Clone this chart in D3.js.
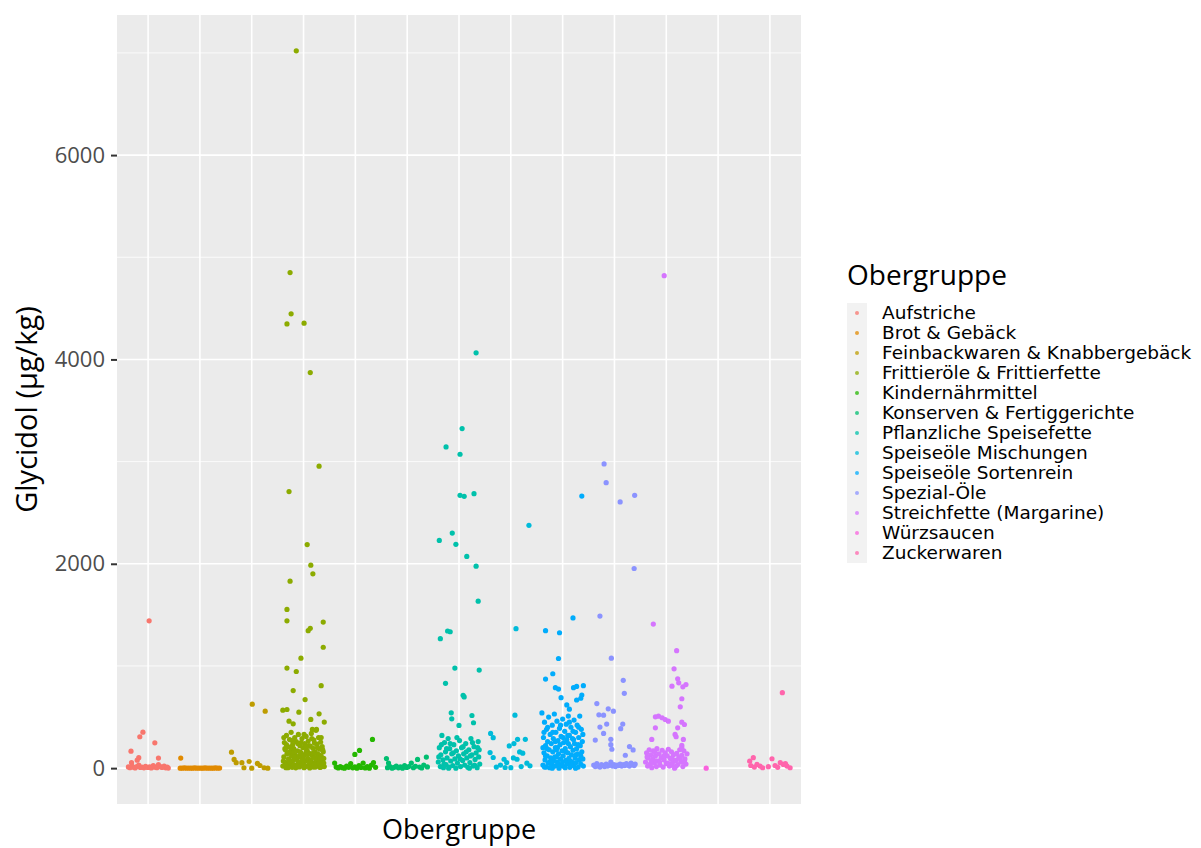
<!DOCTYPE html>
<html>
<head>
<meta charset="utf-8">
<script src="https://cdn.jsdelivr.net/npm/d3@7"></script>
<style>
  body { margin: 0; background: #fff; }
  text { font-family: "Open Sans", sans-serif; }
</style>
</head>
<body>
<div id="chart"></div>
<script>
// jitter plot, one group of points per Obergruppe
var categories = ['Aufstriche', 'Brot & Gebäck', 'Feinbackwaren & Knabbergebäck', 'Frittieröle & Frittierfette',
  'Kindernährmittel', 'Konserven & Fertiggerichte', 'Pflanzliche Speisefette', 'Speiseöle Mischungen',
  'Speiseöle Sortenrein', 'Spezial-Öle', 'Streichfette (Margarine)', 'Würzsaucen', 'Zuckerwaren'];

var colors = ['#F8766D', '#E18A00', '#BE9C00', '#8CAB00', '#24B700', '#00BE70', '#00C1AB',
  '#00BBDA', '#00ACFC', '#8B93FF', '#D575FE', '#F962DD', '#FF65AC'];

var yTicks = [0, 2000, 4000, 6000];
var yMinor = [1000, 3000, 5000, 7000];

// [jitter (in category steps), Glycidol µg/kg]
var aufstriche = [[0.02,1442],[-0.10,352],[-0.16,307],[0.13,248],[-0.33,166],[-0.18,102],[-0.21,78],[0.20,98],[-0.32,53],
  [-0.38,12],[-0.35,5],[-0.31,20],[-0.28,8],[-0.25,2],[-0.22,15],[-0.18,30],[-0.15,6],[-0.12,10],[-0.08,3],[-0.05,18],
  [-0.01,7],[0.03,12],[0.06,2],[0.10,25],[0.13,9],[0.17,4],[0.20,35],[0.24,14],[0.27,6],[0.31,20],[0.34,3],[0.37,10],[0.39,1]];

var brot = [[-0.37,98],[-0.38,0],[-0.34,0],[-0.30,2],[-0.26,0],[-0.22,1],[-0.18,0],[-0.14,0],[-0.10,2],[-0.06,0],[-0.02,1],
  [0.02,0],[0.06,0],[0.10,2],[0.14,0],[0.18,1],[0.22,0],[0.26,0],[0.30,2],[0.34,0],[0.38,1]];

var feinback = [[0.01,626],[0.26,557],[-0.39,156],[-0.34,85],[-0.30,53],[-0.19,53],[-0.05,65],[-0.15,4],[0.00,0],
  [0.11,46],[0.16,26],[0.24,4],[0.31,0]];

var frittier = [[-0.14,7020],[-0.26,4850],[-0.24,4446],[-0.32,4348],[0.01,4355],[0.13,3871],[0.30,2955],[-0.28,2707],
  [0.07,2188],[0.14,1986],[0.18,1902],[-0.26,1830],[-0.32,1553],[-0.32,1442],[0.13,1368],[0.09,1345],[0.38,1430],
  [0.38,1183],[-0.05,1076],[-0.32,979],[-0.14,946],[0.34,807],[-0.20,759],[0.03,671],[-0.40,567],[-0.32,574],
  [-0.09,548],[0.30,532],[0.14,477],[0.40,451],[-0.28,460],[-0.20,434],[0.25,379],[0.17,379],
  [-0.40,20],[-0.38,110],[-0.37,250],[-0.36,60],[-0.35,180],[-0.34,5],[-0.33,320],[-0.32,140],[-0.31,40],[-0.30,210],
  [-0.29,90],[-0.28,15],[-0.27,280],[-0.26,160],[-0.25,55],[-0.24,350],[-0.23,120],[-0.22,8],[-0.21,230],[-0.20,75],
  [-0.19,190],[-0.18,30],[-0.17,300],[-0.16,130],[-0.15,3],[-0.14,260],[-0.13,85],[-0.12,170],[-0.11,45],[-0.10,330],
  [-0.09,115],[-0.08,12],[-0.07,220],[-0.06,65],[-0.05,150],[-0.04,25],[-0.03,290],[-0.02,100],[-0.01,200],[0.00,50],
  [0.01,5],[0.02,240],[0.03,135],[0.04,70],[0.05,310],[0.06,18],[0.07,175],[0.08,95],[0.09,265],[0.10,35],[0.11,145],
  [0.12,2],[0.13,215],[0.14,80],[0.15,340],[0.16,125],[0.17,42],[0.18,195],[0.19,10],[0.20,275],[0.21,105],[0.22,160],
  [0.23,60],[0.24,370],[0.25,22],[0.26,235],[0.27,140],[0.28,88],[0.29,300],[0.30,48],[0.31,185],[0.32,6],[0.33,255],
  [0.34,118],[0.35,70],[0.36,210],[0.37,28],[0.38,160],[0.39,95],[0.40,15],
  [-0.39,70],[-0.30,5],[-0.20,150],[-0.10,20],[0.00,120],[0.10,220],[0.20,40],[0.30,130],[0.35,15],[-0.25,200],
  [-0.15,95],[0.05,160],[0.15,60],[0.25,100],[-0.05,250],[-0.35,35],
  [-0.38,300],[-0.33,230],[-0.29,150],[-0.27,60],[-0.22,270],[-0.18,110],[-0.13,20],[-0.11,240],[-0.07,160],
  [-0.03,40],[0.01,330],[0.04,210],[0.08,140],[0.12,60],[0.16,290],[0.19,150],[0.23,10],[0.27,200],[0.31,90],
  [0.34,300],[0.37,180],[0.39,50],[-0.36,190],[-0.01,80],[0.21,245]];

var kinder = [[0.33,281],[0.08,173],[-0.01,134],[-0.40,50],[-0.37,10],[-0.33,2],[-0.29,15],[-0.25,5],[-0.21,0],[-0.17,20],
  [-0.13,8],[-0.09,45],[-0.05,3],[-0.01,12],[0.03,0],[0.07,25],[0.11,6],[0.15,50],[0.19,2],[0.23,14],[0.27,0],[0.31,30],
  [0.35,55],[0.39,8]];

var konserven = [[-0.40,94],[-0.36,50],[-0.38,5],[-0.33,15],[-0.29,0],[-0.25,8],[-0.21,20],[-0.17,3],[-0.13,12],[-0.09,0],
  [-0.05,25],[-0.01,6],[0.03,15],[0.08,50],[0.12,4],[0.16,18],[0.20,85],[0.24,10],[0.28,2],[0.32,30],[0.37,108],[0.39,12]];

var pflanzlich = [[0.33,4065],[0.06,3323],[-0.25,3144],[0.02,3072],[0.02,2670],[0.10,2660],[0.29,2686],[-0.13,2301],
  [-0.38,2229],[-0.06,2190],[0.15,2072],[0.33,1977],[0.37,1634],[-0.22,1342],[-0.17,1335],[-0.36,1267],[-0.08,979],
  [0.39,960],[-0.26,830],[0.08,713],[0.10,697],[-0.15,541],[-0.14,483],[0.25,515],[0.28,444],[0.00,418],
  [-0.40,60],[-0.38,200],[-0.36,15],[-0.35,130],[-0.33,320],[-0.31,80],[-0.30,5],[-0.28,250],[-0.26,160],[-0.25,35],
  [-0.23,100],[-0.21,290],[-0.19,10],[-0.18,190],[-0.16,70],[-0.14,140],[-0.12,25],[-0.10,230],[-0.08,90],[-0.06,0],
  [-0.05,170],[-0.03,50],[-0.01,120],[0.01,270],[0.03,15],[0.05,200],[0.07,75],[0.09,140],[0.11,30],[0.13,240],
  [0.15,100],[0.17,8],[0.19,180],[0.21,55],[0.23,290],[0.25,130],[0.27,20],[0.29,210],[0.31,85],[0.33,150],[0.35,5],
  [0.37,260],[0.38,110],[0.40,40],[0.39,180],[0.20,0],[-0.20,0],
  [-0.34,230],[-0.29,40],[-0.24,190],[-0.17,240],[-0.11,150],[-0.04,300],[0.02,90],[0.08,210],[0.14,160],[0.22,120],
  [0.30,30],[0.36,200],[-0.39,110],[0.26,250]];

var mischungen = [[0.35,2376],[0.10,1365],[0.08,518],[-0.39,340],[-0.34,298],[-0.03,217],[0.06,240],[0.13,282],[0.28,282],
  [-0.40,152],[-0.34,104],[-0.13,87],[-0.08,55],[0.17,159],[0.23,146],[0.12,87],[0.31,49],[0.37,23],[-0.11,6],
  [-0.28,10],[-0.20,30],[0.00,5],[0.20,15],[0.05,100]];

var sortenrein = [[0.37,2663],[0.20,1470],[-0.33,1345],[-0.06,1325],[-0.08,1073],[-0.33,872],[-0.19,924],[-0.14,787],
  [-0.08,774],[0.21,787],[0.27,800],[0.40,807],[-0.03,690],[0.08,619],[0.13,577],[0.27,667],[0.37,716],[0.35,684],
  [-0.40,540],[-0.38,30],[-0.37,300],[-0.36,150],[-0.35,450],[-0.34,80],[-0.33,220],[-0.32,10],[-0.31,380],[-0.30,120],
  [-0.29,260],[-0.28,50],[-0.27,500],[-0.26,180],[-0.25,5],[-0.24,330],[-0.23,100],[-0.22,240],[-0.21,40],[-0.20,420],
  [-0.19,160],[-0.18,290],[-0.17,70],[-0.16,530],[-0.15,20],[-0.14,200],[-0.13,350],[-0.12,110],[-0.11,460],[-0.10,60],
  [-0.09,270],[-0.08,140],[-0.07,0],[-0.06,390],[-0.05,230],[-0.04,90],[-0.03,310],[-0.02,35],[-0.01,170],[0.00,480],
  [0.01,120],[0.02,250],[0.03,15],[0.04,360],[0.05,190],[0.06,75],[0.07,430],[0.08,280],[0.09,45],[0.10,150],[0.11,510],
  [0.12,95],[0.13,320],[0.14,8],[0.15,210],[0.16,400],[0.17,130],[0.18,60],[0.19,290],[0.20,175],[0.21,25],[0.22,470],
  [0.23,240],[0.24,100],[0.25,350],[0.26,55],[0.27,190],[0.28,420],[0.29,140],[0.30,10],[0.31,300],[0.32,80],[0.33,510],
  [0.34,220],[0.35,40],[0.36,380],[0.37,160],[0.38,260],[0.39,90],[0.40,20],
  [-0.35,10],[-0.25,60],[-0.15,110],[-0.05,20],[0.05,5],[0.15,70],[0.25,0],[0.35,120],[-0.30,190],[0.00,60],[0.10,320],
  [-0.20,0],[0.30,230],[-0.10,200],[0.20,360],
  [-0.38,200],[-0.33,120],[-0.29,400],[-0.24,60],[-0.19,350],[-0.14,260],[-0.09,40],[-0.04,420],[0.01,300],[0.06,160],
  [0.11,240],[0.16,30],[0.21,280],[0.26,130],[0.31,400],[0.36,90],[0.39,330],[-0.36,350],[-0.12,180],[0.13,450]];

var spezial = [[-0.20,2977],[-0.16,2794],[0.11,2605],[0.39,2670],[0.38,1954],[-0.28,1488],[-0.06,1076],[0.17,859],[0.19,732],
  [-0.34,632],[-0.12,580],[-0.02,557],[-0.30,522],[-0.21,518],[0.16,431],[-0.15,431],[-0.28,402],[0.12,386],[-0.21,340],
  [-0.07,282],[-0.07,230],[-0.05,185],[-0.37,275],[0.29,211],[0.36,178],[0.21,126],
  [-0.40,30],[-0.37,15],[-0.34,45],[-0.31,20],[-0.28,10],[-0.25,35],[-0.22,25],[-0.19,15],[-0.16,40],[-0.13,20],[-0.10,30],
  [-0.07,60],[-0.04,20],[-0.01,35],[0.02,15],[0.05,30],[0.08,25],[0.11,40],[0.14,20],[0.17,35],[0.20,25],[0.23,45],
  [0.26,30],[0.29,20],[0.32,50],[0.35,35],[0.38,25],[0.40,40]];

var streichfette = [[-0.04,4820],[-0.25,1410],[0.20,1150],[0.15,972],[0.22,874],[0.24,835],[0.11,802],[0.32,796],[0.38,818],
  [0.30,679],[0.27,600],[-0.21,502],[-0.15,509],[-0.08,493],[-0.02,476],[0.04,460],[-0.21,395],[0.30,450],[0.35,427],
  [0.22,395],[0.17,330],[0.19,307],[0.33,281],[0.30,222],[-0.28,281],
  [-0.40,60],[-0.38,150],[-0.36,20],[-0.35,100],[-0.33,180],[-0.31,40],[-0.30,130],[-0.28,5],[-0.26,90],[-0.25,170],
  [-0.23,50],[-0.21,120],[-0.19,15],[-0.18,190],[-0.16,70],[-0.14,140],[-0.12,30],[-0.10,100],[-0.08,175],[-0.06,10],
  [-0.04,80],[-0.02,150],[0.00,45],[0.02,120],[0.04,185],[0.06,20],[0.08,95],[0.10,160],[0.12,55],[0.14,130],[0.16,0],
  [0.18,75],[0.20,145],[0.22,35],[0.24,110],[0.26,180],[0.28,60],[0.30,125],[0.32,15],[0.34,170],[0.36,90],[0.38,40],
  [0.40,140],[-0.20,70],[0.10,30],[0.30,200],
  [-0.37,110],[-0.29,70],[-0.22,160],[-0.13,60],[-0.05,120],[0.03,50],[0.11,100],[0.19,20],[0.27,90],[0.35,60]];

var wuerz = [[-0.23,0]];

var zucker = [[0.24,739],[-0.32,102],[0.04,92],[-0.39,68],[-0.37,26],[-0.25,36],[-0.19,20],[-0.14,4],[-0.03,14],[0.10,26],
  [0.20,53],[0.26,36],[0.33,20],[0.39,4],[-0.30,10],[0.15,8],[0.30,45]];

var groups = [aufstriche, brot, feinback, frittier, kinder, konserven, pflanzlich, mischungen, sortenrein, spezial,
  streichfette, wuerz, zucker];

var points = [];
groups.forEach(function(g, i) {
  g.forEach(function(p) {
    points.push({ cat: categories[i], jitter: p[0], value: p[1] });
  });
});

var width = 1201, height = 848;
var panel = { left: 117, right: 801, top: 15, bottom: 804 };

var svg = d3.select('#chart').append('svg')
  .attr('width', width)
  .attr('height', height);

var x = d3.scalePoint()
  .domain(categories)
  .range([panel.left, panel.right])
  .padding(0.6);

var maxValue = d3.max(points, function(d) { return d.value; });
var pad = maxValue * 0.05;
var y = d3.scaleLinear()
  .domain([-pad, maxValue + pad])
  .range([panel.bottom, panel.top]);

var color = d3.scaleOrdinal().domain(categories).range(colors);

// panel background + grid
svg.append('rect')
  .attr('x', panel.left).attr('y', panel.top)
  .attr('width', panel.right - panel.left).attr('height', panel.bottom - panel.top)
  .attr('fill', '#EBEBEB');

svg.append('g').selectAll('line').data(yMinor).enter().append('line')
  .attr('x1', panel.left).attr('x2', panel.right)
  .attr('y1', function(d) { return y(d); }).attr('y2', function(d) { return y(d); })
  .attr('stroke', '#fff').attr('stroke-width', 0.8);

svg.append('g').selectAll('line').data(yTicks).enter().append('line')
  .attr('x1', panel.left).attr('x2', panel.right)
  .attr('y1', function(d) { return y(d); }).attr('y2', function(d) { return y(d); })
  .attr('stroke', '#fff').attr('stroke-width', 1.6);

svg.append('g').selectAll('line').data(categories).enter().append('line')
  .attr('x1', function(d) { return x(d); }).attr('x2', function(d) { return x(d); })
  .attr('y1', panel.top).attr('y2', panel.bottom)
  .attr('stroke', '#fff').attr('stroke-width', 1.6);

// y axis
var yAxis = svg.append('g')
  .attr('transform', 'translate(' + panel.left + ',0)')
  .call(d3.axisLeft(y).tickValues(yTicks).tickSize(6).tickPadding(6).tickFormat(d3.format('d')));
yAxis.select('.domain').remove();
yAxis.selectAll('.tick line').attr('stroke', '#333').attr('stroke-width', 2);
yAxis.selectAll('.tick text')
  .attr('fill', '#4D4D4D')
  .style('font-size', '22px')
  .style('font-family', '"Open Sans", sans-serif');

// points
svg.append('g').selectAll('circle')
  .data(points).enter().append('circle')
  .attr('cx', function(d) { return x(d.cat) + d.jitter * x.step(); })
  .attr('cy', function(d) { return y(d.value); })
  .attr('r', 2.6)
  .attr('fill', function(d) { return color(d.cat); });

// axis titles
svg.append('text')
  .attr('x', (panel.left + panel.right) / 2)
  .attr('y', 839)
  .attr('text-anchor', 'middle')
  .style('font-size', '27px')
  .text('Obergruppe');

svg.append('text')
  .attr('transform', 'translate(37,' + ((panel.top + panel.bottom) / 2) + ') rotate(-90)')
  .attr('text-anchor', 'middle')
  .style('font-size', '29px')
  .text('Glycidol (µg/kg)');

// legend
var legend = svg.append('g').attr('transform', 'translate(847,0)');

legend.append('text')
  .attr('x', 0).attr('y', 285)
  .style('font-size', '28px')
  .text('Obergruppe');

var items = legend.selectAll('.item')
  .data(categories).enter().append('g')
  .attr('class', 'item')
  .attr('transform', function(d, i) { return 'translate(0,' + (303 + i * 20) + ')'; });

items.append('rect')
  .attr('width', 20).attr('height', 20)
  .attr('fill', '#F2F2F2');

items.append('circle')
  .attr('cx', 10).attr('cy', 10).attr('r', 2)
  .attr('fill', function(d) { return color(d); })
  .attr('opacity', 0.75);

items.append('text')
  .attr('x', 35).attr('y', 10)
  .attr('dy', '0.35em')
  .style('font-size', '18.5px')
  .style('font-family', '"DejaVu Sans", sans-serif')
  .text(function(d) { return d; });
</script>
</body>
</html>
